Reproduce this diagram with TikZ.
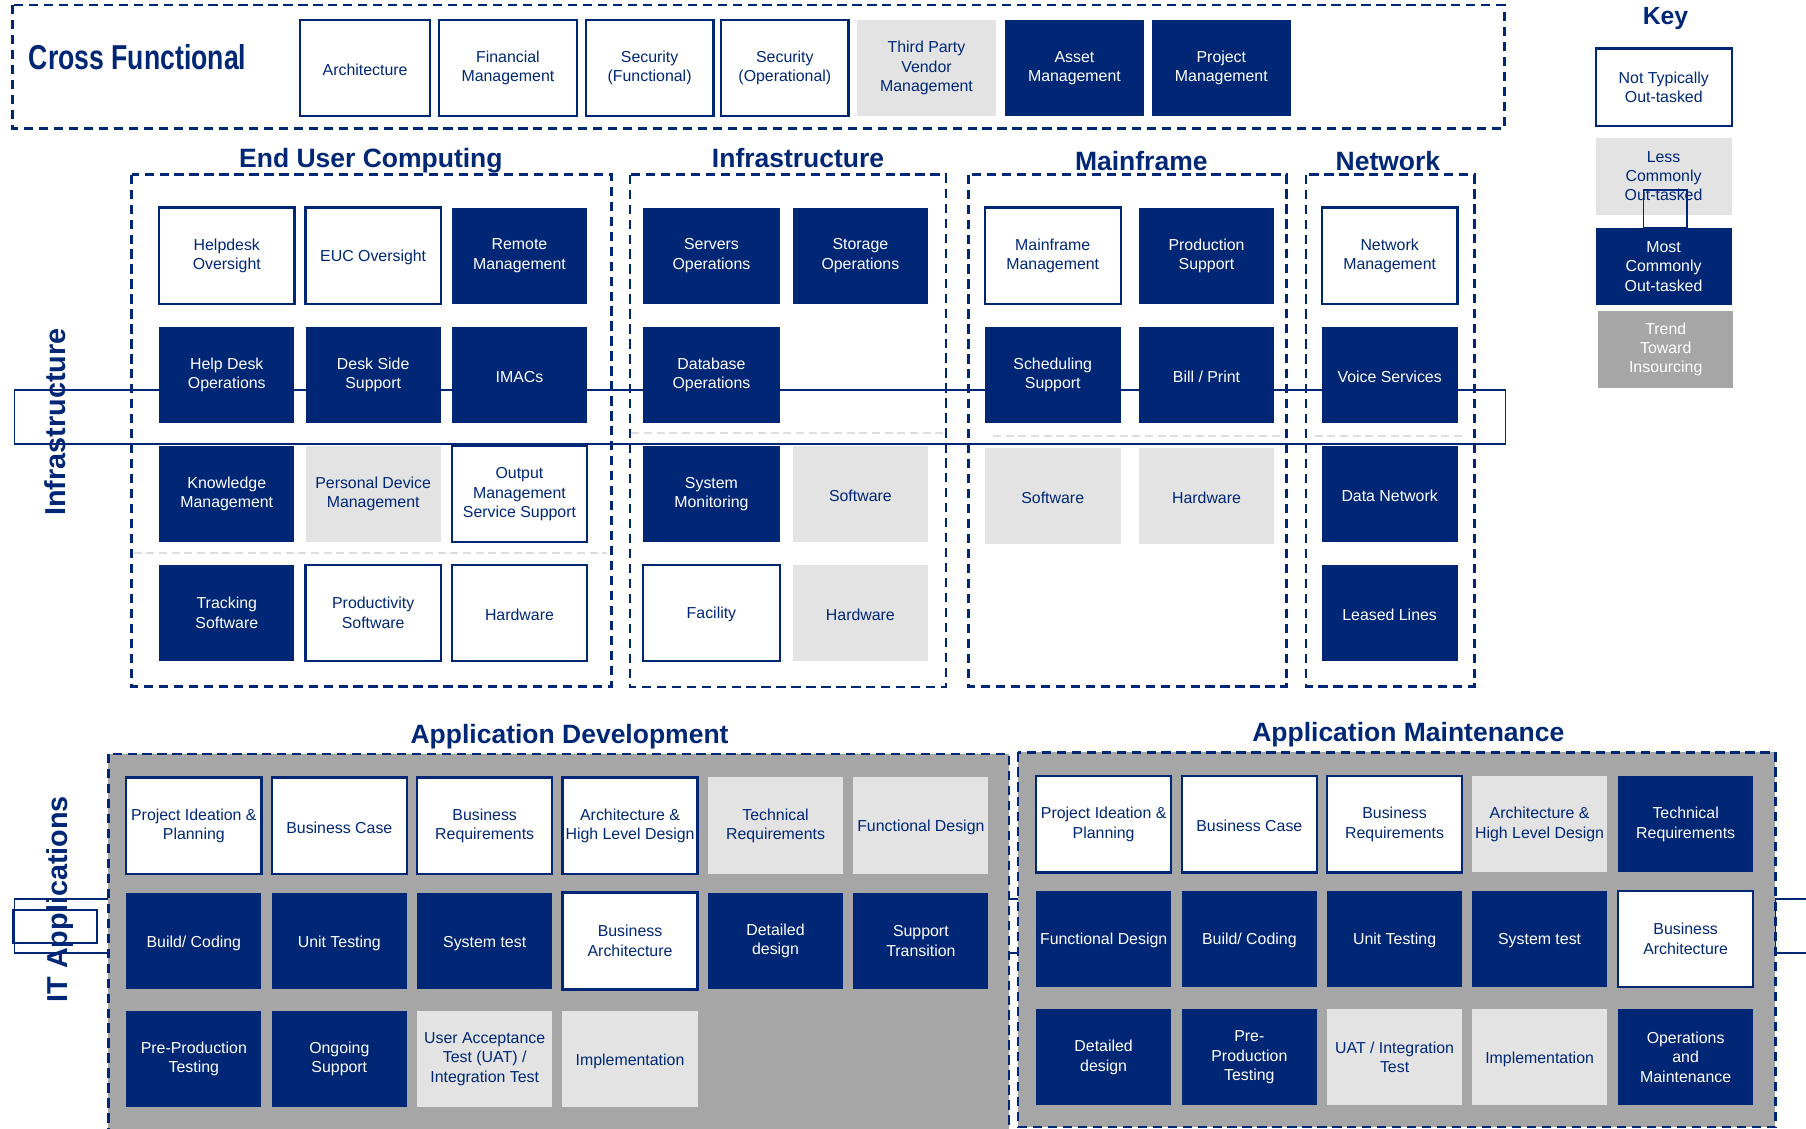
\documentclass[tikz,border=0pt]{standalone}
\usepackage{fontspec}
\setmainfont{Liberation Sans}
\usepackage{graphicx}
\usepackage{tikz}
\usetikzlibrary{positioning}
\definecolor{navy}{RGB}{0,39,118}
\definecolor{paleg}{RGB}{227,227,227}
\definecolor{midg}{RGB}{166,166,166}
\definecolor{sepg}{RGB}{222,222,222}
\newcommand{\tilestrut}{\vrule width0pt height13.4pt depth0.3pt}
\tikzstyle{tile} = [rectangle, minimum width=117.5pt, minimum height=83.5pt, inner sep=0pt, align=center,
  font=\fontsize{13.8}{16.8}\selectfont, execute at begin node=\tilestrut, execute at end node=\tilestrut]
\tikzstyle{notout} = [tile, fill=white, draw=navy, line width=2pt, text=navy]
\tikzstyle{lessout} = [tile, fill=paleg, text=navy]
\tikzstyle{mostout} = [tile, fill=navy, text=white]
\tikzstyle{insource} = [tile, fill=midg, text=white]
\tikzstyle{area} = [draw=navy, line width=2.2pt, dash pattern=on 8pt off 5pt]
\tikzstyle{split} = [draw=sepg, line width=1.6pt, dash pattern=on 7pt off 4pt]
\tikzstyle{head} = [text=navy, inner sep=0pt, anchor=base, font=\fontsize{23}{27}\selectfont\bfseries]
\tikzstyle{side} = [text=navy, inner sep=0pt, anchor=base, rotate=90, font=\fontsize{25}{30}\selectfont\bfseries]
\tikzstyle{stray} = [draw=navy, line width=1.5pt]

\begin{document}
\begin{tikzpicture}[x=1pt, y=-1pt]
\useasboundingbox (0,0) rectangle (1568,980);
\fill[white] (0,0) rectangle (1568,980);

% dashed group outlines
\draw[area] (11,4.5) rectangle (1306,111.5);
\draw[area] (114.3,151.6) rectangle (531,596);
\draw[area] (547,151.6) rectangle (821.5,596.5);
\draw[area] (841,151.6) rectangle (1117,596);
\draw[area] (1134,151.6) rectangle (1280,596);
\draw[split] (116,480.3) -- (527,480.3);
\draw[split] (548,375.8) -- (819.6,375.8);
\draw[split] (862,378.9) -- (1114,378.9);
\draw[split] (1141.4,378.3) -- (1271,378.3);
\draw[stray] (12.5,338.6) rectangle (1307,385.3);

\draw[stray] (12.5,780.8) rectangle (1590,827.7);
\draw[stray] (11.6,790) rectangle (84,818.5);
\draw[area, fill=midg] (94.1,654.6) rectangle (876,990);
\draw[area, fill=midg] (884,653.2) rectangle (1541.4,978.5);
\draw[stray] (1541.4,780.8) -- (1541.4,827.7);

% headings
\node[head, anchor=base west] (cftitle) at (24.9,60) {\fontsize{30}{34}\selectfont\scalebox{0.77}[1]{Cross Functional}};
\node[head] (euctitle) at (322,145.8) {End User Computing};
\node[head] (inftitle) at (692.9,145.8) {Infrastructure};
\node[head] (mftitle) at (990.9,148) {Mainframe};
\node[head] (nettitle) at (1205,148) {Network};
\node[head] (devtitle) at (494.5,645.4) {Application Development};
\node[head] (mnttitle) at (1222.7,644) {Application Maintenance};
\node[head, font=\fontsize{21.5}{25}\selectfont\bfseries] (keytitle) at (1446,21.7) {Key};

% cross functional row
\node[notout, minimum width=113pt] (xarch) at (317,59) {Architecture};
\node[notout, minimum width=120pt] (xfin) at (441,59) {Financial\\Management};
\node[notout, minimum width=111pt] (xsecf) at (564,59) {Security\\(Functional)};
\node[notout, minimum width=110.7pt] (xseco) at (681.4,59) {Security\\(Operational)};
\node[lessout, minimum width=121pt] (xvendor) at (804.4,59) {Third Party\\Vendor\\Management};
\node[mostout, minimum width=120.5pt] (xasset) at (932.8,59) {Asset\\Management};
\node[mostout, minimum width=120.8pt] (xproj) at (1060.4,59) {Project\\Management};

% key
\node[notout, minimum width=118pt, minimum height=67.4pt] (knot) at (1444.5,75.7) {Not Typically\\Out-tasked};
\node[lessout, minimum width=118pt, minimum height=67.2pt] (kless) at (1444.3,153.1) {Less\\Commonly\\Out-tasked};
\draw[stray] (1426.8,165) rectangle (1464.4,198.2);
\node[mostout, minimum width=118pt, minimum height=66.6pt] (kmost) at (1444.3,231.5) {Most\\Commonly\\Out-tasked};
\node[insource, minimum width=117pt, minimum height=66.6pt] (ktrend) at (1446.2,303.3) {Trend\\Toward\\Insourcing};

% end user computing
\node[notout] (hdover) at (196.9,222) {Helpdesk\\Oversight};
\node[notout] (eucover) at (324,222) {EUC Oversight};
\node[mostout] (remote) at (451,222) {Remote\\Management};
\node[mostout] (hdops) at (196.9,325.5) {Help Desk\\Operations};
\node[mostout] (deskside) at (324,325.5) {Desk Side\\Support};
\node[mostout] (imacs) at (451,325.5) {IMACs};
\node[mostout] (knowledge) at (196.9,429) {Knowledge\\Management};
\node[lessout] (personal) at (324,429) {Personal Device\\Management};
\node[notout] (output) at (451,429) {Output\\Management\\Service Support};
\node[mostout] (tracking) at (196.9,532) {Tracking\\Software};
\node[notout] (productivity) at (324,532) {Productivity\\Software};
\node[notout] (euchw) at (451,532) {Hardware};

% infrastructure
\node[mostout, minimum width=118.6pt] (servers) at (617.7,222) {Servers\\Operations};
\node[mostout, minimum width=117pt] (storage) at (747,222) {Storage\\Operations};
\node[mostout, minimum width=118.6pt] (database) at (617.7,325.5) {Database\\Operations};
\node[mostout, minimum width=118.6pt] (sysmon) at (617.7,429) {System\\Monitoring};
\node[lessout, minimum width=117pt] (infsw) at (747,429) {Software};
\node[notout, minimum width=118.6pt] (facility) at (617.7,532) {Facility};
\node[lessout, minimum width=117pt] (infhw) at (747,532) {Hardware};

% mainframe
\node[notout, minimum width=118pt] (mfmgmt) at (914,222) {Mainframe\\Management};
\node[mostout] (prodsup) at (1047.5,222) {Production\\Support};
\node[mostout, minimum width=118pt] (sched) at (914,325.5) {Scheduling\\Support};
\node[mostout] (billprint) at (1047.5,325.5) {Bill / Print};
\node[lessout, minimum width=118pt] (mfsw) at (914,430.9) {Software};
\node[lessout] (mfhw) at (1047.5,430.9) {Hardware};

% network
\node[notout, minimum width=118pt] (netmgmt) at (1206.5,222) {Network\\Management};
\node[mostout, minimum width=118pt] (voice) at (1206.5,325.5) {Voice Services};
\node[mostout, minimum width=118pt] (datanet) at (1206.5,429) {Data Network};
\node[mostout, minimum width=118pt] (leased) at (1206.5,532) {Leased Lines};

% application development
\node[notout, minimum width=117.4pt, minimum height=84pt] (dideation) at (168.3,716.9) {Project Ideation \&\\Planning};
\node[notout, minimum width=117.4pt, minimum height=84pt] (dcase) at (294.6,716.9) {Business Case};
\node[notout, minimum width=117.4pt, minimum height=84pt] (dbusreq) at (420.8,716.9) {Business\\Requirements};
\node[notout, minimum width=117.4pt, minimum height=84pt] (dhld) at (547,716.9) {Architecture \&\\High Level Design};
\node[lessout, minimum width=117.4pt, minimum height=84pt] (dtechreq) at (673.3,716.9) {Technical\\Requirements};
\node[lessout, minimum width=117.4pt, minimum height=84pt] (dfunc) at (799.5,716.9) {Functional Design};
\node[mostout, minimum width=117.4pt, minimum height=84pt] (dbuild) at (168.3,817) {Build/ Coding};
\node[mostout, minimum width=117.4pt, minimum height=84pt] (dunit) at (294.6,817) {Unit Testing};
\node[mostout, minimum width=117.4pt, minimum height=84pt] (dsystem) at (420.8,817) {System test};
\node[notout, minimum width=117.4pt, minimum height=84pt] (dbusarch) at (547,817) {Business\\Architecture};
\node[mostout, minimum width=117.4pt, minimum height=84pt] (ddetail) at (673.3,817) {Detailed\\design};
\node[mostout, minimum width=117.4pt, minimum height=84pt] (dtransition) at (799.5,817) {Support\\Transition};
\node[mostout, minimum width=117.4pt, minimum height=84pt] (dpreprod) at (168.3,919.5) {Pre-Production\\Testing};
\node[mostout, minimum width=117.4pt, minimum height=84pt] (dongoing) at (294.6,919.5) {Ongoing\\Support};
\node[lessout, minimum width=117.4pt, minimum height=84pt] (duat) at (420.8,919.5) {User Acceptance\\Test (UAT) /\\Integration Test};
\node[lessout, minimum width=117.4pt, minimum height=84pt] (dimpl) at (547,919.5) {Implementation};

% application maintenance
\node[notout, minimum width=117.4pt] (mideation) at (958.2,715.7) {Project Ideation \&\\Planning};
\node[notout, minimum width=117.4pt] (mcase) at (1084.7,715.7) {Business Case};
\node[notout, minimum width=117.4pt] (mbusreq) at (1210.8,715.7) {Business\\Requirements};
\node[lessout, minimum width=117.4pt] (mhld) at (1336.7,715.7) {Architecture \&\\High Level Design};
\node[mostout, minimum width=117.4pt] (mtechreq) at (1463.5,715.7) {Technical\\Requirements};
\node[mostout, minimum width=117.4pt] (mfunc) at (958.2,815.1) {Functional Design};
\node[mostout, minimum width=117.4pt] (mbuild) at (1084.7,815.1) {Build/ Coding};
\node[mostout, minimum width=117.4pt] (munit) at (1210.8,815.1) {Unit Testing};
\node[mostout, minimum width=117.4pt] (msystem) at (1336.7,815.1) {System test};
\node[notout, minimum width=117.4pt] (mbusarch) at (1463.5,815.1) {Business\\Architecture};
\node[mostout, minimum width=117.4pt] (mdetail) at (958.2,917.9) {Detailed\\design};
\node[mostout, minimum width=117.4pt] (mpreprod) at (1084.7,917.9) {Pre-\\Production\\Testing};
\node[lessout, minimum width=117.4pt] (muat) at (1210.8,917.9) {UAT / Integration\\Test};
\node[lessout, minimum width=117.4pt] (mimpl) at (1336.7,917.9) {Implementation};
\node[mostout, minimum width=117.4pt] (mops) at (1463.5,917.9) {Operations\\and\\Maintenance};

% side labels
\node[side] (infside) at (57.3,366.5) {Infrastructure};
\node[side] (appside) at (58.2,780.7) {IT Applications};
\end{tikzpicture}
\end{document}
